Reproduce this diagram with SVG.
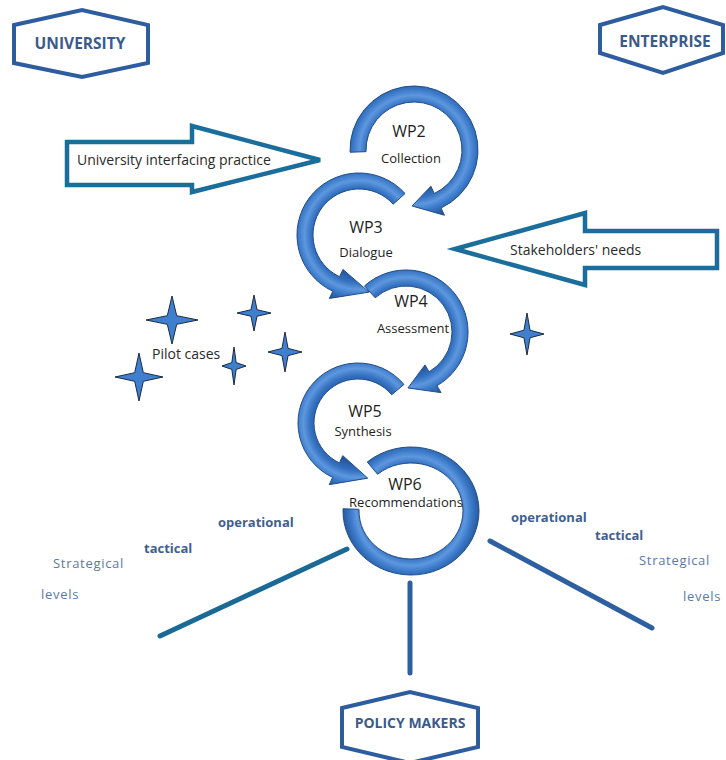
<svg xmlns="http://www.w3.org/2000/svg" xmlns:xlink="http://www.w3.org/1999/xlink" width="726" height="760" viewBox="0 0 726 760">
<style>
.hex{fill:#fff;stroke:#2d5d9f;stroke-width:4;stroke-linejoin:miter}
.hext{font-family:"Open Sans","Liberation Sans",sans-serif;font-weight:bold;fill:#3b5b8a;text-anchor:middle}
.big{fill:#fff;stroke:#1b6e9b;stroke-width:4.5;stroke-linejoin:miter}
.lbl{font-family:"Open Sans","Liberation Sans",sans-serif;font-size:14px;fill:#2a2a2a}
.ring{fill:url(#ringGrad);stroke:#1f4d88;stroke-width:1}
.wp{font-family:"Open Sans","Liberation Sans",sans-serif;font-size:16px;fill:#1e1e1e;text-anchor:middle}
.sub{font-family:"Open Sans","Liberation Sans",sans-serif;font-size:13px;fill:#1e1e1e;text-anchor:middle}
.lvb{font-family:"Open Sans","Liberation Sans",sans-serif;font-size:13px;font-weight:bold;fill:#3f5f8f}
.lvn{font-family:"Open Sans","Liberation Sans",sans-serif;font-size:13px;fill:#5a7aa5;letter-spacing:0.7px}
.conn{fill:none;stroke-width:5;stroke-linecap:round}
.star{fill:#3f7fd0;stroke:#1c2b40;stroke-width:1}
</style>
<defs>
<radialGradient id="ringGrad" gradientUnits="userSpaceOnUse" cx="0" cy="0" r="70">
<stop offset="0.55" stop-color="#24559a"/>
<stop offset="0.68" stop-color="#3370c0"/>
<stop offset="0.78" stop-color="#5d97de"/>
<stop offset="0.87" stop-color="#3a78c8"/>
<stop offset="1" stop-color="#22528f"/>
</radialGradient>
<path id="star" d="M0,-1 L0.18,-0.18 L1,0 L0.18,0.18 L0,1 L-0.18,0.18 L-1,0 L-0.18,-0.18 Z" vector-effect="non-scaling-stroke"/>
</defs>
<rect width="726" height="760" fill="#fff"/>

<g id="connectors">
<line class="conn" x1="347" y1="549" x2="160" y2="636" stroke="#1a6a95"/>
<line class="conn" x1="490" y1="541" x2="652" y2="628" stroke="#2e5fa0"/>
<line class="conn" x1="410" y1="583" x2="410" y2="673" stroke="#2e5fa0"/>
</g>

<g id="university">
<polygon class="hex" points="14,25 82,10 148,25 148,63 82,77 14,63"/>
<text class="hext" x="80" y="49" font-size="15.5">UNIVERSITY</text>
</g>
<g id="enterprise">
<polygon class="hex" points="600,25 663,7 723,25 723,53 663,73 600,53"/>
<text class="hext" x="665" y="47" font-size="15.5">ENTERPRISE</text>
</g>
<g id="policy-makers">
<polygon class="hex" points="342,708 410,692 478,708 478,747 410,763 342,747"/>
<text class="hext" x="410" y="728" font-size="14">POLICY MAKERS</text>
</g>

<g id="university-practice">
<polygon class="big" points="67,142 192,142 192,126 320,160 192,192 192,185 67,185"/>
<text class="lbl" x="77" y="165">University interfacing practice</text>
</g>
<g id="stakeholders-needs">
<polygon class="big" points="455,249 585,213 585,231 717,231 717,268 585,268 585,285"/>
<text class="lbl" x="510" y="255">Stakeholders' needs</text>
</g>

<g id="wp6">
<path class="ring" transform="translate(411,511)" d="M -43.71,-49.03 A 68 64 0 1 1 -67.96,-2.23 L -51.97,-1.68 A 52 48 0 1 0 -33.43,-36.77 Z"/>
<text class="wp" x="405" y="490">WP6</text>
<text class="sub" x="406" y="507" font-size="12">Recommendations</text>
</g>
<g id="wp5">
<path class="ring" transform="translate(358,423)" d="M 45.96,-38.57 A 60 60 0 1 0 -25.36,54.38 L -28.74,61.63 L 9.72,55.15 L -15.21,32.63 L -18.59,39.88 A 44 44 0 1 1 33.7,-28.28 Z"/>
<text class="wp" x="365" y="417">WP5</text>
<text class="sub" x="363" y="436">Synthesis</text>
</g>
<g id="wp4">
<path class="ring" transform="translate(406,332)" d="M -41.48,-46.07 A 62 62 0 1 1 31,53.69 L 35,60.62 L 1.95,55.97 L 19,32.91 L 23,39.84 A 46 46 0 1 0 -30.78,-34.18 Z"/>
<text class="wp" x="411" y="307">WP4</text>
<text class="sub" x="413" y="333">Assessment</text>
</g>
<g id="wp3">
<path class="ring" transform="translate(359,235)" d="M 46.07,-41.48 A 62 62 0 1 0 -26.2,56.19 L -29.58,63.44 L 10.1,57.1 L -16.06,34.44 L -19.44,41.69 A 46 46 0 1 1 34.18,-30.78 Z"/>
<text class="wp" x="366" y="233">WP3</text>
<text class="sub" x="366" y="257">Dialogue</text>
</g>
<g id="wp2">
<path class="ring" transform="translate(414,150)" d="M -63.96,2.23 A 64 64 0 1 1 27.05,58.0 L 30.43,65.25 L -1.95,55.97 L 16.9,36.25 L 20.28,43.5 A 48 48 0 1 0 -47.97,1.68 Z"/>
<text class="wp" x="409" y="137">WP2</text>
<text class="sub" x="411" y="163">Collection</text>
</g>

<g id="pilot-cases">
<use href="#star" class="star" transform="translate(172,320) scale(26,24)"/>
<use href="#star" class="star" transform="translate(254,313) scale(17,18)"/>
<use href="#star" class="star" transform="translate(285,352) scale(17,20)"/>
<use href="#star" class="star" transform="translate(234,366) scale(12,19)"/>
<use href="#star" class="star" transform="translate(139,377) scale(24,24)"/>
<use href="#star" class="star" transform="translate(527,334) scale(17,21)"/>
<text class="lbl" x="152" y="359">Pilot cases</text>
</g>

<g id="levels-left">
<text class="lvb" x="218" y="527">operational</text>
<text class="lvb" x="144" y="553">tactical</text>
<text class="lvn" x="53" y="568">Strategical</text>
<text class="lvn" x="41" y="599">levels</text>
</g>
<g id="levels-right">
<text class="lvb" x="511" y="522">operational</text>
<text class="lvb" x="595" y="540">tactical</text>
<text class="lvn" x="639" y="565">Strategical</text>
<text class="lvn" x="683" y="601">levels</text>
</g>
</svg>
